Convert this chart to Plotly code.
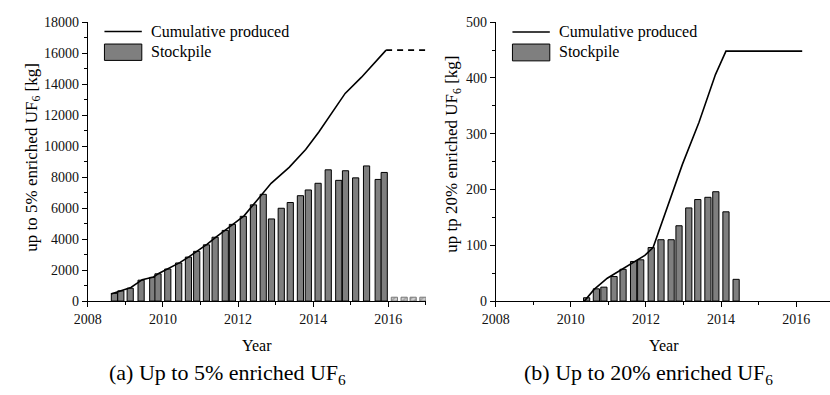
import plotly.graph_objects as go

# ---------------- data ----------------
# (a) up to 5% enriched UF6
a_bar_years = [2008.71, 2008.88, 2009.13, 2009.42, 2009.73, 2009.87, 2010.13, 2010.42,
               2010.68, 2010.90, 2011.16, 2011.39, 2011.66, 2011.85, 2012.14, 2012.41,
               2012.67, 2012.89, 2013.15, 2013.39, 2013.66, 2013.87, 2014.13, 2014.40,
               2014.68, 2014.86, 2015.13, 2015.42, 2015.73, 2015.89]
a_bar_values = [500, 660, 830, 1350, 1530, 1760, 2070, 2460, 2840, 3210, 3630, 4120,
                4560, 4950, 5470, 6210, 6890, 5300, 5990, 6360, 6800, 7170, 7600, 8470,
                7790, 8410, 7950, 8720, 7850, 8300]
a_proj_years = [2016.16, 2016.42, 2016.66, 2016.92]
a_proj_values = [250, 250, 250, 250]
a_line_years = [2008.62, 2008.75, 2008.90, 2009.15, 2009.45, 2009.75, 2009.90, 2010.15,
                2010.45, 2010.70, 2010.93, 2011.18, 2011.42, 2011.68, 2011.88, 2012.16,
                2012.38, 2012.64, 2012.88, 2013.36, 2013.80, 2014.15, 2014.50, 2014.85,
                2015.28, 2015.63, 2015.81, 2015.94]
a_line_values = [450, 560, 700, 880, 1380, 1560, 1800, 2100, 2480, 2870, 3240, 3670,
                 4150, 4590, 4980, 5500, 6150, 6880, 7600, 8630, 9780, 10910, 12150,
                 13400, 14430, 15370, 15880, 16190]
a_dash_years = [2015.94, 2017.0]
a_dash_values = [16190, 16190]

# (b) up to 20% enriched UF6
b_bar_years = [2010.42, 2010.68, 2010.88, 2011.15, 2011.39, 2011.67, 2011.86, 2012.14,
               2012.40, 2012.67, 2012.88, 2013.14, 2013.38, 2013.65, 2013.86, 2014.13,
               2014.40]
b_bar_values = [6, 22, 25, 44, 57, 71, 74, 96, 110, 110, 135, 167, 182, 186, 196, 160, 39]
b_line_years = [2010.36, 2010.62, 2010.97, 2011.40, 2011.75, 2011.97, 2012.19, 2012.45,
                2012.71, 2012.97, 2013.41, 2013.85, 2014.13, 2016.16]
b_line_values = [0, 21, 41, 59, 73, 82, 96, 145, 194, 245, 320, 406, 448, 448]

x_ticks = [2008, 2010, 2012, 2014, 2016]

BAR_W = 0.165
FONT = "Liberation Serif, serif"
W, H = 830, 395


def px(x):
    return x / W


def py(y):
    return 1 - y / H


fig = go.Figure()

bar_style = dict(marker=dict(color="#7f7f7f", line=dict(color="black", width=1)))

fig.add_trace(go.Bar(x=a_bar_years, y=a_bar_values, width=[BAR_W] * len(a_bar_years),
                     xaxis="x", yaxis="y", showlegend=False, **bar_style))
fig.add_trace(go.Bar(x=a_proj_years, y=a_proj_values, width=[BAR_W] * len(a_proj_years),
                     xaxis="x", yaxis="y", showlegend=False,
                     marker=dict(color="#cfcfcf", line=dict(color="#777777", width=1),
                                 pattern=dict(shape="/", fgcolor="#666666", size=4, solidity=0.35))))
fig.add_trace(go.Scatter(x=a_line_years, y=a_line_values, mode="lines",
                         line=dict(color="black", width=1.6), xaxis="x", yaxis="y",
                         showlegend=False))
fig.add_trace(go.Scatter(x=a_dash_years, y=a_dash_values, mode="lines",
                         line=dict(color="black", width=1.6, dash="6px,5px"),
                         xaxis="x", yaxis="y", showlegend=False))

fig.add_trace(go.Bar(x=b_bar_years, y=b_bar_values, width=[BAR_W] * len(b_bar_years),
                     xaxis="x2", yaxis="y2", showlegend=False, **bar_style))
fig.add_trace(go.Scatter(x=b_line_years, y=b_line_values, mode="lines",
                         line=dict(color="black", width=1.6), xaxis="x2", yaxis="y2",
                         showlegend=False))

ydom = [py(305.7), py(15.7)]

axis_common = dict(showgrid=False, zeroline=False, showline=True, linecolor="black",
                   linewidth=1, ticks="outside", ticklen=5, tickwidth=1, tickcolor="black",
                   tickformat="d",
                   tickfont=dict(family=FONT, size=14, color="#111111"))

fig.update_layout(
    width=W, height=H, margin=dict(l=0, r=0, t=0, b=0),
    paper_bgcolor="white", plot_bgcolor="white", barmode="overlay",
    font=dict(family=FONT, color="black"),
    xaxis=dict(domain=[px(75), px(419)], range=[2008, 2017], tickvals=x_ticks,
               anchor="y", minor=dict(ticks="outside", ticklen=3, dtick=1, tick0=2008,
                                      tickcolor="black"), **axis_common),
    yaxis=dict(domain=ydom, range=[0, 18000], dtick=2000, tick0=0, anchor="x",
               minor=dict(ticks="outside", ticklen=3, dtick=1000, tickcolor="black"),
               **axis_common),
    xaxis2=dict(domain=[px(490), 1.0], range=[2008, 2016.9], tickvals=x_ticks,
                anchor="y2", minor=dict(ticks="outside", ticklen=3, dtick=1, tick0=2008,
                                        tickcolor="black"), **axis_common),
    yaxis2=dict(domain=ydom, range=[0, 500], dtick=100, tick0=0, anchor="x2",
                minor=dict(ticks="outside", ticklen=3, dtick=50, tickcolor="black"),
                **axis_common),
)

shapes = []
annotations = []


def legend_at(x0, y_line, y_rect0, y_rect1):
    shapes.append(dict(type="line", xref="paper", yref="paper", x0=px(x0), x1=px(x0 + 38),
                       y0=py(y_line), y1=py(y_line), line=dict(color="black", width=1.6)))
    shapes.append(dict(type="rect", xref="paper", yref="paper", x0=px(x0), x1=px(x0 + 38),
                       y0=py(y_rect1), y1=py(y_rect0), fillcolor="#7f7f7f",
                       line=dict(color="black", width=1)))
    annotations.append(dict(x=px(x0 + 45), y=py(y_line), xref="paper", yref="paper",
                            text="Cumulative produced", showarrow=False, xanchor="left",
                            yanchor="middle", font=dict(family=FONT, size=16, color="black")))
    annotations.append(dict(x=px(x0 + 45), y=py((y_rect0 + y_rect1) / 2), xref="paper",
                            yref="paper", text="Stockpile", showarrow=False, xanchor="left",
                            yanchor="middle", font=dict(family=FONT, size=16, color="black")))


legend_at(92, 25.5, 38.5, 55.5)
legend_at(507, 26, 38.5, 56)


def text_at(x, y, text, size, angle=0):
    annotations.append(dict(x=px(x), y=py(y), xref="paper", yref="paper", text=text,
                            showarrow=False, xanchor="center", yanchor="middle",
                            textangle=angle, font=dict(family=FONT, size=size, color="black")))


text_at(247, 352, "Year", 16)
text_at(661, 352, "Year", 16)
text_at(217, 381, "(a) Up to 5% enriched UF<sub>6</sub>", 22)
text_at(645, 381, "(b) Up to 20% enriched UF<sub>6</sub>", 22)
text_at(19, 156, "up to 5% enriched UF<sub>6</sub> [kg]", 17, -90)
text_at(447, 153, "up tp 20% enriched UF<sub>6</sub> [kg]", 17, -90)

fig.update_layout(shapes=shapes, annotations=annotations)

fig.write_html("out.html")
